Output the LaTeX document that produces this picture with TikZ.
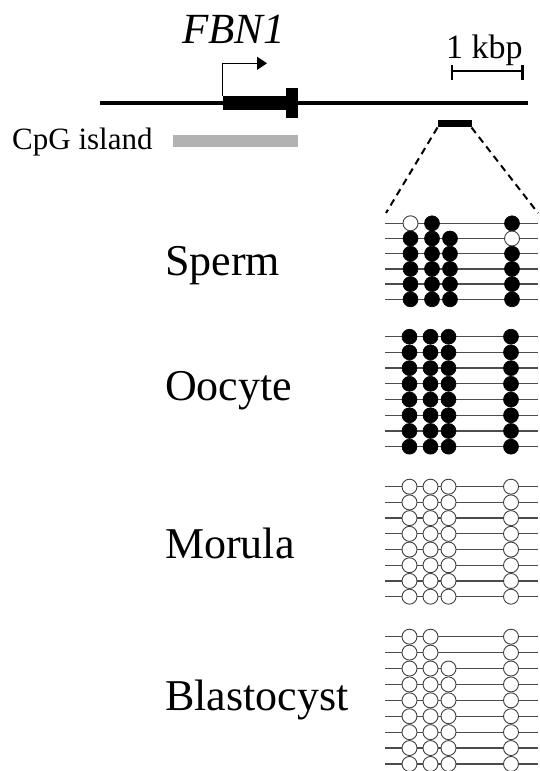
\documentclass[tikz,border=0pt]{standalone}
\usepackage{fontspec}
\setmainfont{Liberation Serif}
\usetikzlibrary{arrows.meta}
\newcommand\mrow[2]{%
  \draw[rowline] (385,#1) -- (538,#1);
  \foreach \xx/\st in {#2} {%
    \ifnum\st=1 \draw[meth] (\xx,#1) circle[radius=7.5];
    \else \draw[unmeth] (\xx,#1) circle[radius=7.5]; \fi
  }%
}
\begin{document}
\begin{tikzpicture}[x=1pt,y=-1pt,
  rowline/.style={draw=black!70, line width=1.3pt},
  meth/.style={fill=black, draw=black, line width=0.6pt},
  unmeth/.style={fill=white, draw=black!75, line width=0.9pt},
  lbl/.style={anchor=base west, inner sep=0pt, font=\fontsize{44}{50}\selectfont}]
\useasboundingbox (0,0) rectangle (539,771);

% gene
\coordinate (gl) at (100,102.5);
\coordinate (gr) at (528,102.5);
\draw[line width=4pt] (gl) -- (gr);
\fill (222.7,95.7) rectangle (287,110);
\fill (286,87.7) rectangle (297.5,117.7);
\coordinate (tss) at (222.7,96);
\coordinate (tssup) at (222.7,63.3);
\coordinate (tssend) at (267,63.3);
\draw[line width=1.5pt, -{Triangle[length=10pt,width=13pt]}] (tss) -- (tssup) -- (tssend);
\node[anchor=base west, inner sep=0pt, font=\fontsize{43}{50}\selectfont\itshape] (fbn) at (182,43) {FBN1};

% scale bar
\node[anchor=base west, inner sep=0pt, font=\fontsize{34}{40}\selectfont] (kbp) at (446,58.3) {1 kbp};
\coordinate (sbl) at (452,71);
\coordinate (sbr) at (522.5,71);
\draw[line width=2.5pt] (sbl) -- (sbr);
\draw[line width=2.2pt] (452,65) -- (452,80);
\draw[line width=2.2pt] (522.5,65) -- (522.5,80);

% CpG island
\node[anchor=base west, inner sep=0pt, font=\fontsize{31}{36}\selectfont] (cpg) at (12,149) {CpG island};
\fill[gray!60] (173,135) rectangle (298,147);

% region
\fill (437.7,120) rectangle (471.7,126.7);
\coordinate (rl) at (437.5,127.5);
\coordinate (rr) at (471.5,127.5);
\coordinate (bl) at (386,213);
\coordinate (br) at (538,213);
\draw[line width=2pt, dash pattern=on 7pt off 5pt] (rl) -- (bl);
\draw[line width=2pt, dash pattern=on 7pt off 5pt] (rr) -- (br);

% labels
\node[lbl] (sperm) at (165,275) {Sperm};
\node[lbl] (oocyte) at (165,400) {Oocyte};
\node[lbl] (morula) at (165,558) {Morula};
\node[lbl] (blast) at (165,710) {Blastocyst};

% Sperm
\mrow{223.3}{410.5/0,432/1,512/1}
\mrow{238.5}{410.5/1,432/1,450/1,512/0}
\foreach \yy in {253.7,268.9,284.1,299.3} {\mrow{\yy}{410.5/1,432/1,450/1,512/1}}

% Oocyte
\foreach \i in {0,...,7} {\pgfmathsetmacro\yy{336.7+15.71*\i}\mrow{\yy}{409.5/1,430.5/1,448.5/1,511/1}}

% Morula
\foreach \i in {0,...,7} {\pgfmathsetmacro\yy{486.7+15.71*\i}\mrow{\yy}{409.5/0,430.5/0,448.5/0,511/0}}

% Blastocyst
\mrow{636.7}{409.5/0,430.5/0,511/0}
\mrow{652.6}{409.5/0,430.5/0,511/0}
\foreach \i in {2,...,8} {\pgfmathsetmacro\yy{636.7+15.91*\i}\mrow{\yy}{409.5/0,430.5/0,448.5/0,511/0}}
\end{tikzpicture}
\end{document}
